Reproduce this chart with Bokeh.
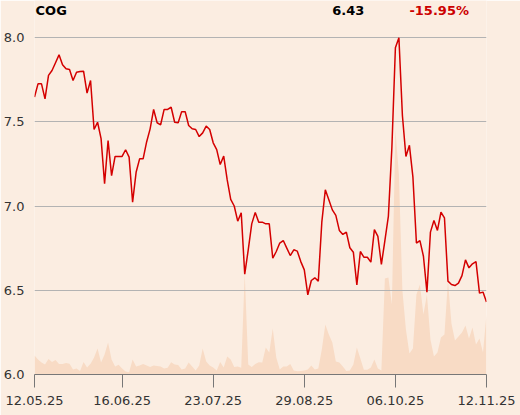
from bokeh.plotting import figure
from bokeh.models import Range1d, FixedTicker, Label, LinearAxis
from bokeh.embed import file_html
from bokeh.resources import INLINE

ticker_name = "COG"
last_price = "6.43"
change_pct = "-15.95%"

price = [7.646, 7.725, 7.725, 7.636, 7.775, 7.804, 7.85, 7.897, 7.838, 7.814,
         7.81, 7.745, 7.794, 7.798, 7.8, 7.67, 7.745, 7.454, 7.497, 7.40,
         7.132, 7.389, 7.18, 7.294, 7.294, 7.294, 7.334, 7.29, 7.023, 7.20,
         7.28, 7.28, 7.38, 7.458, 7.573, 7.494, 7.482, 7.573, 7.573, 7.586,
         7.497, 7.494, 7.56, 7.56, 7.478, 7.458, 7.454, 7.412, 7.434, 7.474,
         7.454, 7.375, 7.335, 7.246, 7.296, 7.155, 7.039, 7.0, 6.91, 6.96,
         6.595, 6.74, 6.894, 6.962, 6.904, 6.904, 6.894, 6.894, 6.69, 6.73,
         6.78, 6.795, 6.75, 6.706, 6.74, 6.732, 6.67, 6.621, 6.473, 6.558,
         6.574, 6.554, 6.904, 7.096, 7.037, 6.977, 6.944, 6.855, 6.831, 6.845,
         6.752, 6.726, 6.532, 6.73, 6.696, 6.696, 6.667, 6.86, 6.82, 6.653,
         6.795, 6.94, 7.349, 7.939, 7.998, 7.537, 7.294, 7.36, 7.171, 6.78,
         6.795, 6.702, 6.489, 6.845, 6.914, 6.855, 6.963, 6.93, 6.554, 6.534,
         6.528, 6.542, 6.587, 6.68, 6.633, 6.657, 6.67, 6.483, 6.489, 6.43]

volume = [19, 15, 12, 10, 15.5, 12.5, 14.5, 10.5, 10.5, 11.5,
          10.7, 5, 6, 3.5, 12.5, 7, 10.7, 17, 26, 12,
          20, 32, 15, 8, 9.7, 6, 3, 2.3, 15, 8,
          9, 10.5, 9, 7.5, 9, 8.5, 8, 6, 6.7, 12.3,
          10, 9.5, 5, 6, 12, 8, 4, 9, 26, 13,
          9, 7, 4, 12.5, 7, 18, 15, 7.5, 8, 6.7,
          101, 10, 7.5, 10.5, 12.3, 12, 27, 22, 46, 17,
          5, 8, 8, 10.5, 4, 3.3, 3.5, 4, 5, 9,
          5, 6, 25, 50, 40, 32, 13, 12, 8, 3.5,
          4, 10, 27, 16, 4.7, 4.7, 7, 15, 6, 4,
          96, 97, 70, 245, 200, 84, 45, 21, 26, 80,
          90, 60, 80, 35, 18, 22, 37, 40, 94, 51,
          34, 38, 42, 49, 36, 47, 30, 36, 22, 60]

tick_index = [0, 25, 51, 77, 103, 129]
tick_labels = ["12.05.25", "16.06.25", "23.07.25", "29.08.25", "06.10.25", "12.11.25"]
y_ticks = [6.0, 6.5, 7.0, 7.5, 8.0]

idx = list(range(len(price)))
BG = "#FBEDE1"
FONT = "DejaVu Sans"

# headroom above 8.0 holds the header texts inside the frame
y_top = 8.0 + 37 / 168.5
p = figure(width=520, height=415, output_backend="svg", toolbar_location=None,
           x_range=Range1d(0, len(price) - 1), y_range=Range1d(6.0, y_top),
           min_border_left=34, min_border_right=34, min_border_top=0,
           min_border_bottom=41, x_axis_location=None, y_axis_location=None)
p.background_fill_color = BG
p.border_fill_color = BG
p.outline_line_color = None
p.extra_y_ranges = {"vol": Range1d(0, 374)}

p.varea(x=idx, y1=[0] * len(volume), y2=volume, y_range_name="vol",
        fill_color="#F8DBC5", fill_alpha=1.0, level="image")
p.line(x=idx, y=price, line_color="#D40000", line_width=1.5)

xaxis = LinearAxis(ticker=FixedTicker(ticks=tick_index),
                   major_label_overrides={i: l for i, l in zip(tick_index, tick_labels)})
xaxis.axis_line_color = "#777777"
xaxis.major_tick_line_color = "#777777"
xaxis.major_tick_out = 13
xaxis.major_tick_in = 0
xaxis.minor_tick_line_color = None
xaxis.major_label_text_font = FONT
xaxis.major_label_text_font_size = "13px"
xaxis.major_label_text_color = "#333333"
xaxis.major_label_standoff = 8
p.add_layout(xaxis, "below")

yaxis = LinearAxis(ticker=FixedTicker(ticks=y_ticks),
                   major_label_overrides={t: f"{t:.1f}" for t in y_ticks})
yaxis.axis_line_color = None
yaxis.major_tick_line_color = None
yaxis.minor_tick_line_color = None
yaxis.major_label_text_font = FONT
yaxis.major_label_text_font_size = "13px"
yaxis.major_label_text_color = "#333333"
yaxis.major_label_standoff = 4
p.add_layout(yaxis, "left")

p.xgrid.grid_line_color = None
p.ygrid.ticker = FixedTicker(ticks=[6.5, 7.0, 7.5, 8.0])
p.ygrid.grid_line_color = "#B3B3B3"
p.ygrid.grid_line_width = 1

for txt, xpos, col in [(ticker_name, 0.3, "#000000"), (last_price, 85.0, "#000000"),
                       (change_pct, 107.0, "#CC0000")]:
    p.add_layout(Label(x=xpos, y=8.16, text=txt, text_font=FONT, text_font_size="13px",
                       text_font_style="bold", text_color=col, text_baseline="middle",
                       text_align="left"))

open("out.html", "w").write(file_html(p, INLINE))
